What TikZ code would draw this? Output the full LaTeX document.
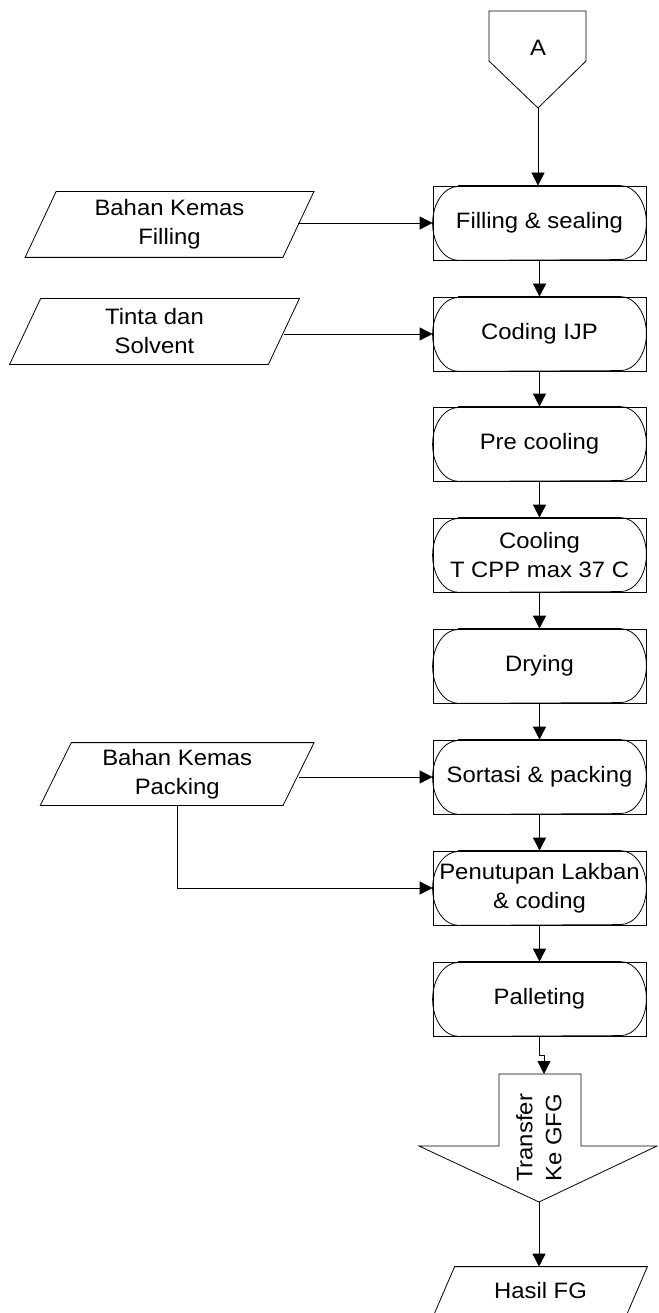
\documentclass[tikz,border=0pt]{standalone}
\usepackage{fontspec}
\setmainfont{Liberation Sans}[FakeStretch=1.07]
\usetikzlibrary{arrows.meta,calc}

% rounded process outline inside a boxed step
\newcommand\stadium[1]{%
  \draw ([xshift=26pt]#1.north west) -- ([xshift=-26pt]#1.north east)
    arc[start angle=90,end angle=-90,x radius=26pt,y radius=37pt]
    -- ([xshift=26pt]#1.south west)
    arc[start angle=270,end angle=90,x radius=26pt,y radius=37pt] -- cycle;}
% slanted data outline around a text node (#2 = half of the horizontal lean)
\newcommand\slant[2]{%
  \draw ([xshift=#2]#1.north west) -- ([xshift=#2]#1.north east)
    -- ([xshift=-#2]#1.south east) -- ([xshift=-#2]#1.south west) -- cycle;}

\begin{document}
\begin{tikzpicture}[x=1pt,y=-1pt,line width=0.8pt,
  txt/.style={font=\fontsize{22.3}{29}\selectfont, align=center},
  proc/.style={txt, draw, rectangle, minimum width=213pt, minimum height=74pt, inner sep=0pt},
  io/.style={txt, rectangle, inner sep=0pt, minimum height=65pt},
  arr/.style={-{Triangle[length=13pt,width=13pt]}}]
\useasboundingbox (0,0) rectangle (658,1313);
\begin{scope}
\clip (0,0) rectangle (658,1313);

% off-page connector at the top
\node[txt] (A) at (538,48) {A};
\draw (489,11) -- (586,11) -- (586,61) -- (538,108) -- (489,61) -- cycle;
\coordinate (Atip) at (538,108);

% process steps
\node[proc] (fill) at (539.5,223) {Filling \& sealing};
\node[proc] (ijp)  at (539.5,334) {Coding IJP};
\node[proc] (pre)  at (539.5,444) {Pre cooling};
\node[proc] (cool) at (539.5,555) {Cooling\\T CPP max 37 C};
\node[proc] (dry)  at (539.5,666) {Drying};
\node[proc] (sort) at (539.5,777) {Sortasi \& packing};
\node[proc] (lak)  at (539.5,888) {Penutupan Lakban\\\& coding};
\node[proc] (pal)  at (539.5,999) {Palleting};
\foreach \n in {fill,ijp,pre,cool,dry,sort,lak,pal} {\stadium{\n}}

% material inputs
\node[io, minimum width=257pt] (in1) at (169.5,224.5) {Bahan Kemas\\Filling};
\slant{in1}{15.5pt}
\node[io, minimum width=258pt] (in2) at (154.5,331.5) {Tinta dan\\Solvent};
\slant{in2}{15.5pt}
\node[io, minimum width=242pt, minimum height=62pt] (in3) at (177.2,774) {Bahan Kemas\\Packing};
\slant{in3}{15.5pt}

% transfer arrow shape
\draw (499,1074) -- (581,1074) -- (581,1146) -- (657,1146) -- (539,1202)
  -- (419,1146) -- (499,1146) -- cycle;
\node[txt, rotate=90] (tr) at (539,1138) {Transfer\\Ke GFG};
\coordinate (trtop) at (544,1074);
\coordinate (trtip) at (539,1202);

% finished goods output
\node[io, minimum width=192pt, minimum height=48pt] (hasil) at (540.5,1291) {Hasil FG};
\slant{hasil}{10.5pt}

% connectors
\draw[arr] (Atip) -- (Atip |- fill.north);
\draw[arr] (fill) -- (ijp);
\draw[arr] (ijp) -- (pre);
\draw[arr] (pre) -- (cool);
\draw[arr] (cool) -- (dry);
\draw[arr] (dry) -- (sort);
\draw[arr] (sort) -- (lak);
\draw[arr] (lak) -- (pal);
\draw[arr] (pal.south) -- ++(0,19) -| (trtop);
\draw[arr] (trtip) -- (trtip |- hasil.north);
\draw[arr] (in1.east |- fill.west) -- (fill.west);
\draw[arr] (in2.east |- ijp.west) -- (ijp.west);
\draw[arr] (in3.east |- sort.west) -- (sort.west);
\draw[arr] (in3.south) |- (lak.west);
\end{scope}
\end{tikzpicture}
\end{document}
